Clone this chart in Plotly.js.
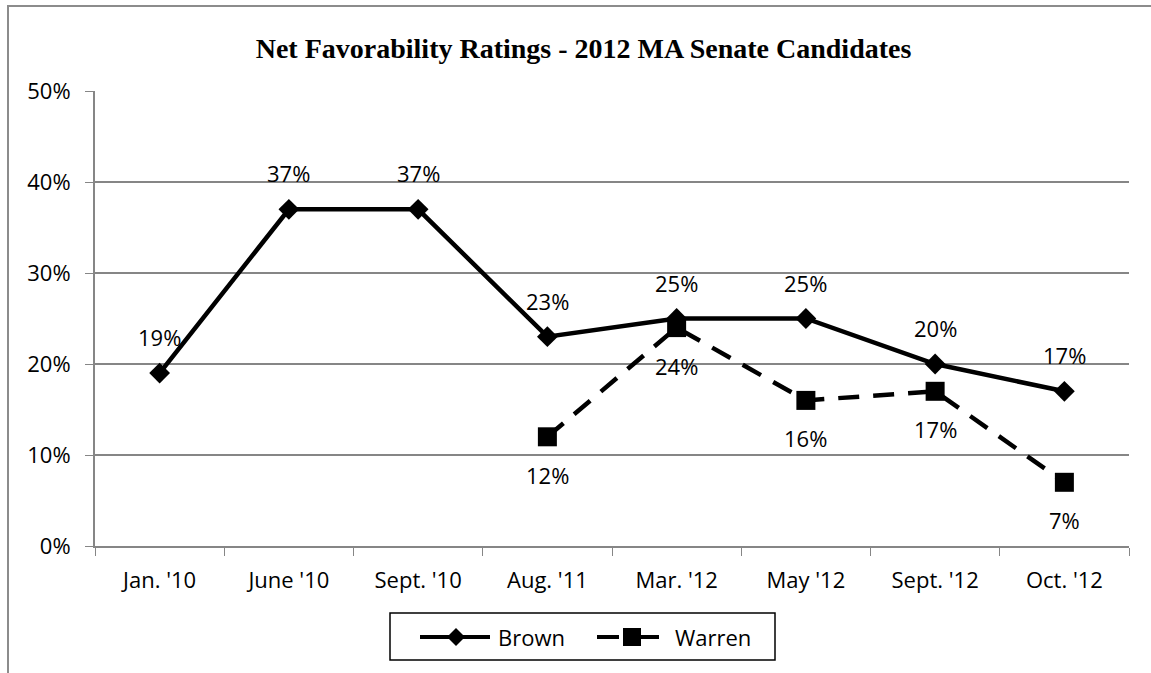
<!DOCTYPE html>
<html><head><meta charset="utf-8">
<script src="https://cdn.plot.ly/plotly-3.0.1.min.js"></script>
<style>
body{margin:0;background:#fff;}
#chart{width:1151px;height:673px;}
#frame{position:absolute;left:7px;top:5px;width:1160px;height:700px;border-left:2px solid #8c8c8c;border-top:2px solid #8c8c8c;pointer-events:none;}
</style></head>
<body>
<div id="chart"></div>
<div id="frame"></div>
<script>
const categories = ["Jan. '10","June '10","Sept. '10","Aug. '11","Mar. '12","May '12","Sept. '12","Oct. '12"];
const brown = [19,37,37,23,25,25,20,17];
const warren = [null,null,null,12,24,16,17,7];
const seriesNames = ['Brown','Warren'];
const yTicks = [0,10,20,30,40,50];

const font = "'Open Sans', sans-serif";
const fs = 22;

// plot area geometry (px)
const L = 95, R = 22, T = 91, B = 127, W = 1151, H = 673;
const pw = W - L - R, ph = H - T - B;
const px = x => (x - L) / pw;
const py = y => (H - B - y) / ph;

const annotations = [];
categories.forEach((c,i)=>{
  if (brown[i]!==null) annotations.push({x:c,y:brown[i],xref:'x',yref:'y',text:brown[i]+'%',showarrow:false,yshift:36,font:{family:font,size:fs,color:'#000'}});
  if (warren[i]!==null) annotations.push({x:c,y:warren[i],xref:'x',yref:'y',text:warren[i]+'%',showarrow:false,yshift:-38,font:{family:font,size:fs,color:'#000'}});
});

// custom legend (box, symbols, labels)
const ly = 637;
const shapes = [
  {type:'rect',xref:'paper',yref:'paper',x0:px(390),x1:px(775),y0:py(613),y1:py(660),line:{color:'#000',width:1.5},fillcolor:'#fff',layer:'above'},
  {type:'line',xref:'paper',yref:'paper',x0:px(420),x1:px(490),y0:py(ly),y1:py(ly),line:{color:'#000',width:4},layer:'above'},
  {type:'path',xref:'paper',yref:'paper',xsizemode:'pixel',ysizemode:'pixel',xanchor:px(456),yanchor:py(ly),
   path:'M -9 0 L 0 9 L 9 0 L 0 -9 Z',fillcolor:'#000',line:{color:'#000',width:0},layer:'above'},
  {type:'line',xref:'paper',yref:'paper',x0:px(597),x1:px(619),y0:py(ly),y1:py(ly),line:{color:'#000',width:4},layer:'above'},
  {type:'line',xref:'paper',yref:'paper',x0:px(641),x1:px(659),y0:py(ly),y1:py(ly),line:{color:'#000',width:4},layer:'above'},
  {type:'path',xref:'paper',yref:'paper',xsizemode:'pixel',ysizemode:'pixel',xanchor:px(632),yanchor:py(ly),
   path:'M -9 -9 L 9 -9 L 9 9 L -9 9 Z',fillcolor:'#000',line:{color:'#000',width:0},layer:'above'}
];
annotations.push({xref:'paper',yref:'paper',x:px(496),y:py(ly),xanchor:'left',yanchor:'middle',text:seriesNames[0],showarrow:false,font:{family:font,size:fs,color:'#000'}});
annotations.push({xref:'paper',yref:'paper',x:px(673),y:py(ly),xanchor:'left',yanchor:'middle',text:seriesNames[1],showarrow:false,font:{family:font,size:fs,color:'#000'}});

const traces = [
 {x:categories,y:brown,name:seriesNames[0],type:'scatter',mode:'lines+markers',
  line:{color:'#000',width:4.5},marker:{symbol:'diamond',size:16,color:'#000'}},
 {x:categories,y:warren,name:seriesNames[1],type:'scatter',mode:'lines+markers',
  line:{color:'#000',width:4.5,dash:'21px,14px'},marker:{symbol:'square',size:19,color:'#000'}}
];

const layout = {
  width:W,height:H,
  margin:{l:L,r:R,t:T,b:B},
  paper_bgcolor:'#fff',plot_bgcolor:'#fff',
  title:{text:'<b>Net Favorability Ratings - 2012 MA Senate Candidates</b>',font:{family:"'Liberation Serif','Times New Roman',serif",size:28,color:'#000'},x:0.507,xanchor:'center',y:0.928,yanchor:'middle'},
  xaxis:{type:'category',tickson:'boundaries',ticks:'outside',ticklen:8,tickcolor:'#868686',
    showline:true,linecolor:'#868686',linewidth:2,showgrid:false,
    tickfont:{family:font,size:fs,color:'#000'},range:[-0.5,7.5],ticklabelstandoff:14},
  yaxis:{range:[0,50],tickvals:yTicks,ticktext:yTicks.map(v=>v+'%'),ticks:'outside',ticklen:8,tickcolor:'#868686',
    showline:true,linecolor:'#868686',linewidth:2,gridcolor:'#868686',gridwidth:1.5,zeroline:false,
    tickfont:{family:font,size:fs,color:'#000'},ticklabelstandoff:10},
  showlegend:false,
  shapes:shapes,
  annotations:annotations
};
Plotly.newPlot('chart',traces,layout,{displayModeBar:false,staticPlot:true});
</script>
</body></html>
